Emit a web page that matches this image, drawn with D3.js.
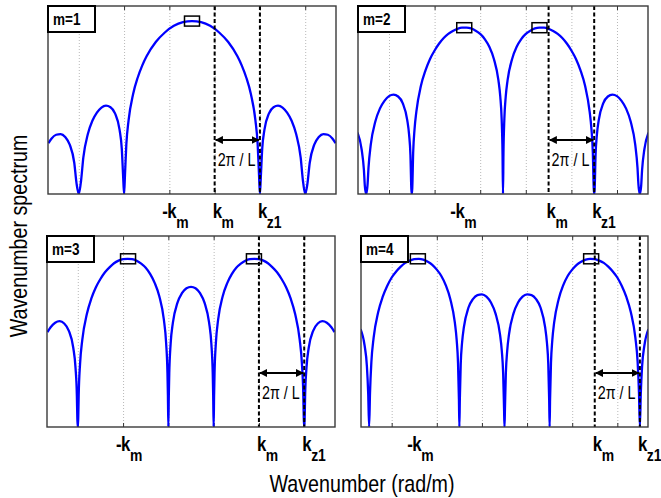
<!DOCTYPE html>
<html>
<head>
<meta charset="utf-8">
<script src="https://cdn.jsdelivr.net/npm/d3@7"></script>
<style>
body { margin: 0; background: #fff; }
text { font-family: "Liberation Sans", Arial, sans-serif; fill: #000; }
</style>
</head>
<body>
<svg id="chart" width="661" height="498"></svg>
<script>
// panel names, wavenumber positions in units of 2pi/L, levels in dB
var panelNames = ["m=1", "m=2", "m=3", "m=4"];
var kmValues = [0.5, 1, 1.5, 2];
var kz1Values = [1.5, 2, 2.5, 3];
var gridTicks = [-2.5, -1.5, -0.5, 0.5, 1.5, 2.5];
var peakMarks = [
  [[0, 0]],
  [[-0.85, -1.8], [0.8, -1.8]],
  [[-1.39, -2], [1.39, -2]],
  [[-1.92, -2], [1.92, -2]]
];

var spectrum1 = [[-3.17,-33.2],[-3.1,-31.9],[-3,-30.9],[-2.9,-30.7],[-2.8,-31.5],[-2.7,-33.6],[-2.6,-38.5],[-2.55,-44.1],[-2.5,-47],
  [-2.45,-43.4],[-2.4,-37.1],[-2.3,-30.7],[-2.2,-27.1],[-2.1,-24.9],[-2,-23.5],[-1.9,-23],[-1.8,-23.4],[-1.7,-25.1],[-1.6,-29.5],[-1.55,-34.8],[-1.52,-42.4],[-1.5,-47],
  [-1.48,-41.8],[-1.45,-33.5],[-1.4,-26.9],[-1.3,-19.8],[-1.2,-15.4],[-1.1,-12.1],[-1,-9.5],[-0.8,-5.7],[-0.6,-3.1],[-0.4,-1.3],[-0.2,-0.3],[0,0],
  [0.2,-0.3],[0.4,-1.3],[0.6,-3.1],[0.8,-5.7],[1,-9.5],[1.1,-12.1],[1.2,-15.4],[1.3,-19.8],[1.4,-26.9],[1.45,-33.5],[1.48,-41.8],[1.5,-47],
  [1.52,-42.4],[1.55,-34.8],[1.6,-29.5],[1.7,-25.1],[1.8,-23.4],[1.9,-23],[2,-23.5],[2.1,-24.9],[2.2,-27.1],[2.3,-30.7],[2.4,-37.1],[2.45,-43.4],[2.5,-47],
  [2.55,-44.1],[2.6,-38.5],[2.7,-33.6],[2.8,-31.5],[2.9,-30.7],[3,-30.9],[3.1,-31.9],[3.17,-33.2]];

var spectrum2 = [[-3.19,-30.3],[-3.1,-34.9],[-3.05,-40.5],[-3.03,-44.8],[-3,-47],
  [-2.97,-44.4],[-2.95,-39.9],[-2.9,-33.6],[-2.8,-27.3],[-2.7,-23.8],[-2.6,-21.7],[-2.5,-20.4],[-2.4,-20],[-2.3,-20.5],[-2.2,-22.3],[-2.1,-26.9],[-2.06,-30.8],[-2.03,-36.4],[-2.01,-45.7],[-2,-47],
  [-1.99,-45.5],[-1.97,-35.7],[-1.94,-29.4],[-1.9,-24.6],[-1.8,-17.6],[-1.7,-13.4],[-1.6,-10.3],[-1.5,-8],[-1.4,-6.1],[-1.3,-4.6],[-1.2,-3.5],[-1.1,-2.7],[-1,-2.1],[-0.9,-1.8],[-0.8,-1.8],[-0.7,-2],[-0.6,-2.6],[-0.5,-3.5],[-0.4,-4.9],[-0.3,-7],[-0.2,-10.3],[-0.1,-16.1],[-0.06,-20.5],[-0.03,-26.5],[-0.01,-36.1],[0,-47],
  [0.01,-36.1],[0.03,-26.5],[0.06,-20.5],[0.1,-16.1],[0.2,-10.3],[0.3,-7],[0.4,-4.9],[0.5,-3.5],[0.6,-2.6],[0.7,-2],[0.8,-1.8],[0.9,-1.8],[1,-2.1],[1.1,-2.7],[1.2,-3.5],[1.3,-4.6],[1.4,-6.1],[1.5,-8],[1.6,-10.3],[1.7,-13.4],[1.8,-17.6],[1.9,-24.6],[1.94,-29.4],[1.97,-35.7],[1.99,-45.5],[2,-47],
  [2.01,-45.7],[2.03,-36.4],[2.06,-30.8],[2.1,-26.9],[2.2,-22.3],[2.3,-20.5],[2.4,-20],[2.5,-20.4],[2.6,-21.7],[2.7,-23.8],[2.8,-27.3],[2.9,-33.6],[2.95,-39.9],[2.97,-44.4],[3,-47],
  [3.03,-44.8],[3.05,-40.5],[3.1,-34.9],[3.19,-30.3]];

var spectrum3 = [[-3.17,-21.6],[-3.1,-20.3],[-3,-19.1],[-2.9,-18.7],[-2.8,-19.3],[-2.7,-21.2],[-2.6,-25.8],[-2.55,-31.2],[-2.52,-38.8],[-2.51,-44.7],[-2.5,-47],
  [-2.49,-44.5],[-2.48,-38.4],[-2.45,-30.1],[-2.4,-23.6],[-2.3,-16.8],[-2.2,-12.6],[-2.1,-9.6],[-2,-7.4],[-1.9,-5.6],[-1.8,-4.3],[-1.7,-3.2],[-1.6,-2.5],[-1.5,-2.1],[-1.4,-2],[-1.3,-2.1],[-1.2,-2.5],[-1.1,-3.3],[-1,-4.4],[-0.9,-6.1],[-0.8,-8.5],[-0.7,-12],[-0.6,-18.2],[-0.55,-24.4],[-0.52,-32.5],[-0.51,-38.5],[-0.5,-47],
  [-0.49,-38.6],[-0.48,-32.7],[-0.45,-24.8],[-0.4,-19.1],[-0.3,-13.8],[-0.2,-11.2],[-0.1,-9.9],[0,-9.5],[0.1,-9.9],[0.2,-11.2],[0.3,-13.8],[0.4,-19.1],[0.45,-24.8],[0.48,-32.7],[0.49,-38.6],[0.5,-47],
  [0.51,-38.5],[0.52,-32.5],[0.55,-24.4],[0.6,-18.2],[0.7,-12],[0.8,-8.5],[0.9,-6.1],[1,-4.4],[1.1,-3.3],[1.2,-2.5],[1.3,-2.1],[1.4,-2],[1.5,-2.1],[1.6,-2.5],[1.7,-3.2],[1.8,-4.3],[1.9,-5.6],[2,-7.4],[2.1,-9.6],[2.2,-12.6],[2.3,-16.8],[2.4,-23.6],[2.45,-30.1],[2.48,-38.4],[2.49,-44.5],[2.5,-47],
  [2.51,-44.7],[2.52,-38.8],[2.55,-31.2],[2.6,-25.8],[2.7,-21.2],[2.8,-19.3],[2.9,-18.7],[3,-19.1],[3.1,-20.3],[3.17,-21.6]];

var spectrum4 = [[-3.19,-20.8],[-3.1,-25.2],[-3.05,-30.6],[-3.02,-38.2],[-3,-47],
  [-2.98,-37.8],[-2.95,-29.6],[-2.9,-23.1],[-2.8,-16.3],[-2.7,-12.2],[-2.6,-9.3],[-2.5,-7],[-2.4,-5.4],[-2.3,-4.1],[-2.2,-3.1],[-2.1,-2.5],[-2,-2.1],[-1.9,-2],[-1.8,-2.2],[-1.7,-2.8],[-1.6,-3.6],[-1.5,-4.9],[-1.4,-6.6],[-1.3,-9.1],[-1.2,-12.8],[-1.1,-19.1],[-1.06,-23.7],[-1.03,-29.9],[-1.01,-39.5],[-1,-47],
  [-0.99,-39.7],[-0.97,-30.2],[-0.94,-24.4],[-0.9,-20.3],[-0.8,-15.1],[-0.7,-12.8],[-0.6,-11.7],[-0.5,-11.5],[-0.4,-12.1],[-0.3,-13.7],[-0.2,-16.6],[-0.1,-22.2],[-0.06,-26.6],[-0.03,-32.6],[-0.01,-42.1],[0,-47],
  [0.01,-42.1],[0.03,-32.6],[0.06,-26.6],[0.1,-22.2],[0.2,-16.6],[0.3,-13.7],[0.4,-12.1],[0.5,-11.5],[0.6,-11.7],[0.7,-12.8],[0.8,-15.1],[0.9,-20.3],[0.94,-24.4],[0.97,-30.2],[0.99,-39.7],[1,-47],
  [1.01,-39.5],[1.03,-29.9],[1.06,-23.7],[1.1,-19.1],[1.2,-12.8],[1.3,-9.1],[1.4,-6.6],[1.5,-4.9],[1.6,-3.6],[1.7,-2.8],[1.8,-2.2],[1.9,-2],[2,-2.1],[2.1,-2.5],[2.2,-3.1],[2.3,-4.1],[2.4,-5.4],[2.5,-7],[2.6,-9.3],[2.7,-12.2],[2.8,-16.3],[2.9,-23.1],[2.95,-29.6],[2.98,-37.8],[3,-47],
  [3.02,-38.2],[3.05,-30.6],[3.1,-25.2],[3.19,-20.8]];

var spectra = [spectrum1, spectrum2, spectrum3, spectrum4];

var svg = d3.select("#chart");

// panel rectangles in the figure
var frames = [
  {x0: 48, x1: 336, y0: 6, y1: 194},
  {x0: 358, x1: 648, y0: 6, y1: 194},
  {x0: 47, x1: 335, y0: 236, y1: 427},
  {x0: 361, x1: 648, y0: 236, y1: 427}
];

// the original figure uses a condensed face: squeeze the text sideways
var squeeze = 0.82;
function placeText(parent, px, py, rot) {
    return parent.append("text")
        .attr("transform", "translate(" + px + "," + py + ")" + (rot ? " rotate(" + rot + ")" : "") + " scale(" + squeeze + ",1)");
}

var defs = svg.append("defs");
defs.append("marker")
    .attr("id", "arrow")
    .attr("viewBox", "0 0 10 10")
    .attr("refX", 9).attr("refY", 5)
    .attr("markerWidth", 4.5).attr("markerHeight", 4.5)
    .attr("orient", "auto-start-reverse")
    .append("path")
    .attr("d", "M0,0 L10,5 L0,10 z")
    .attr("fill", "#000");

frames.forEach(function(f, i) {
    var x = d3.scaleLinear().domain([-3.18, 3.18]).range([f.x0, f.x1]);
    var y = d3.scaleLinear().domain([-47, 4.1]).range([f.y1, f.y0]);
    var g = svg.append("g");

    defs.append("clipPath").attr("id", "clip" + i)
        .append("rect")
        .attr("x", f.x0).attr("y", f.y0 - 1)
        .attr("width", f.x1 - f.x0).attr("height", f.y1 - f.y0 + 1);

    //grid
    g.append("g")
        .attr("transform", "translate(0," + f.y1 + ")")
        .call(d3.axisBottom(x).tickValues(gridTicks).tickSize(-(f.y1 - f.y0)).tickFormat(""))
        .call(function(a) {
            a.select(".domain").remove();
            a.selectAll("line").attr("stroke", "#b8b8b8").attr("stroke-width", 1).attr("stroke-dasharray", "1,2");
        });

    //ticks at bottom and top
    g.append("g")
        .attr("transform", "translate(0," + f.y1 + ")")
        .call(d3.axisBottom(x).tickValues(gridTicks).tickSize(-4).tickFormat(""))
        .call(function(a) { a.select(".domain").remove(); a.selectAll("line").attr("stroke", "#333"); });
    g.append("g")
        .attr("transform", "translate(0," + f.y0 + ")")
        .call(d3.axisTop(x).tickValues(gridTicks).tickSize(-4).tickFormat(""))
        .call(function(a) { a.select(".domain").remove(); a.selectAll("line").attr("stroke", "#333"); });

    var line = d3.line()
        .x(function(d) { return x(d[0]); })
        .y(function(d) { return y(d[1]); })
        .curve(d3.curveMonotoneX);

    g.append("path")
        .datum(spectra[i])
        .attr("clip-path", "url(#clip" + i + ")")
        .attr("d", line)
        .attr("fill", "none")
        .attr("stroke", "#0000ff")
        .attr("stroke-width", 2.3);

    //dashed lines at km and kz1
    g.selectAll("line.dash")
        .data([kmValues[i], kz1Values[i]])
        .enter()
        .append("line")
        .attr("class", "dash")
        .attr("x1", function(d) { return x(d); })
        .attr("x2", function(d) { return x(d); })
        .attr("y1", f.y0)
        .attr("y2", f.y1)
        .attr("stroke", "#000")
        .attr("stroke-width", 2)
        .attr("stroke-dasharray", "4,2.5");

    //peak boxes
    g.selectAll("rect.peak")
        .data(peakMarks[i])
        .enter()
        .append("rect")
        .attr("class", "peak")
        .attr("x", function(d) { return x(d[0]) - 7.5; })
        .attr("y", function(d) { return y(d[1]) - 5; })
        .attr("width", 15)
        .attr("height", 10)
        .attr("fill", "none")
        .attr("stroke", "#000")
        .attr("stroke-width", 1.5);

    //2pi/L arrow
    var ay = f.y1 - 54;
    g.append("line")
        .attr("x1", x(kmValues[i]) + 1).attr("x2", x(kz1Values[i]) - 1)
        .attr("y1", ay).attr("y2", ay)
        .attr("stroke", "#000").attr("stroke-width", 1.8)
        .attr("marker-start", "url(#arrow)")
        .attr("marker-end", "url(#arrow)");
    placeText(g, x(kmValues[i]) + 3, f.y1 - 28)
        .attr("font-size", 17.5)
        .text("2\u03c0 / L");

    //frame
    g.append("rect")
        .attr("x", f.x0).attr("y", f.y0)
        .attr("width", f.x1 - f.x0).attr("height", f.y1 - f.y0)
        .attr("fill", "none")
        .attr("stroke", "#3a3a3a")
        .attr("stroke-width", 1.4);

    //tick labels
    var base = f.y1 + 23.5;
    function kLabel(pos, sub, minus) {
        var t = placeText(g, x(pos) - 2, base)
            .attr("font-weight", "bold")
            .attr("font-size", 20.5);
        t.append("tspan").text("k");
        t.append("tspan").attr("dy", 10.5).attr("dx", -0.5).attr("font-size", 17).text(sub);
        if (minus) {
            placeText(g, x(pos) - 1.5, base)
                .attr("text-anchor", "end")
                .attr("font-weight", "bold")
                .attr("font-size", 20.5)
                .text("-");
        }
    }
    kLabel(-kmValues[i], "m", true);
    kLabel(kmValues[i], "m", false);
    kLabel(kz1Values[i], "z1", false);

    //panel name box
    g.append("rect")
        .attr("x", f.x0).attr("y", f.y0)
        .attr("width", 47).attr("height", 26)
        .attr("fill", "#fff")
        .attr("stroke", "#000")
        .attr("stroke-width", 2);
    placeText(g, f.x0 + 5, f.y0 + 19)
        .attr("font-weight", "bold")
        .attr("font-size", 16.5)
        .text(panelNames[i]);
});

placeText(svg, 27, 236, -90)
    .attr("text-anchor", "middle")
    .attr("font-size", 24)
    .text("Wavenumber spectrum");

placeText(svg, 362, 492)
    .attr("text-anchor", "middle")
    .attr("font-size", 24)
    .text("Wavenumber (rad/m)");
</script>
</body>
</html>
